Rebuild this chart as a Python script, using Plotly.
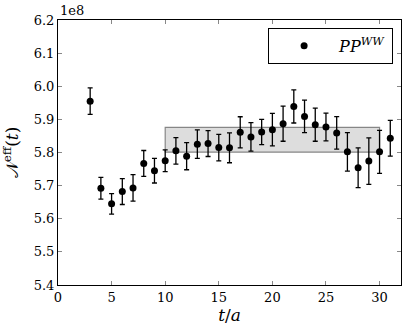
import plotly.graph_objects as go

# effective overlap N^eff(t) in units of 1e8
t_vals = list(range(3, 32))
n_eff = [5.955, 5.692, 5.645, 5.682, 5.693, 5.767, 5.745, 5.775, 5.805, 5.789,
         5.825, 5.827, 5.815, 5.814, 5.861, 5.847, 5.862, 5.869, 5.887, 5.939,
         5.909, 5.884, 5.877, 5.859, 5.802, 5.754, 5.774, 5.802, 5.843]
n_err = [0.040, 0.033, 0.031, 0.039, 0.040, 0.039, 0.037, 0.033, 0.040, 0.041,
         0.043, 0.039, 0.040, 0.045, 0.047, 0.043, 0.038, 0.049, 0.053, 0.050,
         0.049, 0.050, 0.042, 0.049, 0.058, 0.060, 0.070, 0.065, 0.054]

# plateau fit band
fit_range = [10, 30]
fit_mean = 5.8385
fit_err = 0.0375

font = "DejaVu Serif"

fig = go.Figure()

lo, hi = fit_mean - fit_err, fit_mean + fit_err
fig.add_trace(go.Scatter(
    x=[fit_range[0], fit_range[1], fit_range[1], fit_range[0], fit_range[0]],
    y=[lo, lo, hi, hi, lo],
    mode="lines", fill="toself", fillcolor="rgba(128,128,128,0.27)",
    line=dict(color="rgba(110,110,110,0.8)", width=1.2),
    showlegend=False, hoverinfo="skip"))

fig.add_trace(go.Scatter(
    x=t_vals, y=n_eff, mode="markers",
    marker=dict(color="black", size=7),
    error_y=dict(type="data", array=n_err, color="black", thickness=1.3, width=2.5),
    name="<i>PP</i><sup><i>WW</i></sup>"))

fig.update_layout(
    width=407, height=331,
    margin=dict(l=58, r=6, t=20, b=46),
    plot_bgcolor="white", paper_bgcolor="white",
    font=dict(family=font, size=13, color="black"),
    legend=dict(x=0.977, y=0.97, xanchor="right", yanchor="top",
                bordercolor="black", borderwidth=1, bgcolor="white",
                font=dict(size=16, family=font),
                itemwidth=60),
    annotations=[dict(text="1e8", xref="paper", yref="paper", x=0, y=1.0,
                      xanchor="left", yanchor="bottom", showarrow=False,
                      font=dict(size=13, family=font))],
)

fig.update_xaxes(range=[0, 32], dtick=5, tick0=0, ticks="inside", ticklen=4,
                 tickcolor="#888", showline=True, linecolor="black", mirror="ticks",
                 showgrid=False, zeroline=False, automargin=False,
                 title=dict(text="<i>t</i>/<i>a</i>", font=dict(size=17), standoff=3))
fig.update_yaxes(range=[5.4, 6.2], dtick=0.1, tick0=5.4, tickformat=".1f",
                 ticks="inside", ticklen=4, tickcolor="#888", showline=True,
                 linecolor="black", mirror="ticks", showgrid=False, zeroline=False,
                 automargin=False,
                 title=dict(text="𝒩<sup>eff</sup>(<i>t</i>)", font=dict(size=17), standoff=10))

fig.write_html("out.html", config={"displayModeBar": False},
               post_script="document.body.style.margin='0';")
